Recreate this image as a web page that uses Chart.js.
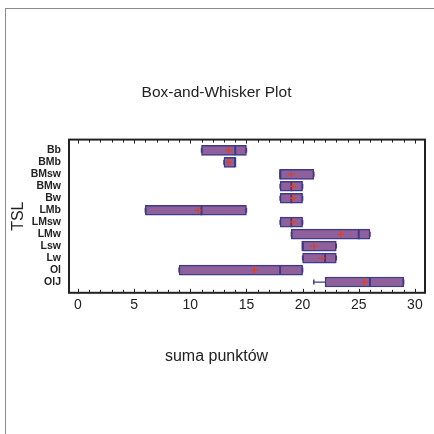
<!DOCTYPE html>
<html>
<head>
  <meta charset="UTF-8">
  <title>Box-and-Whisker Plot</title>
  <script src="https://cdn.jsdelivr.net/npm/chart.js@4.4.1/dist/chart.umd.min.js"></script>
  <style>
    html, body {
      margin: 0;
      padding: 0;
      background: #fff;
    }
    .wrap {
      position: relative;
      width: 434px;
      height: 434px;
      overflow: hidden;
    }
    .frame {
      position: absolute;
      left: 5px;
      top: 8px;
      width: 440px;
      height: 440px;
      border-left: 1.5px solid #8a8a8a;
      border-top: 1.5px solid #8a8a8a;
    }
    canvas {
      position: absolute;
      left: 0;
      top: 0;
    }
  </style>
</head>
<body>
<div class="wrap">
  <div class="frame"></div>
  <canvas id="chart" width="434" height="434"></canvas>
</div>

<script>
// categories, top to bottom
const groups = ["Bb", "BMb", "BMsw", "BMw", "Bw", "LMb", "LMsw", "LMw", "Lsw", "Lw", "Ol", "OlJ"];
const minVals = [11, 13, 18, 18, 18, 6, 18, 19, 20, 20, 9, 21];
const q1Vals = [11, 13, 18, 18, 18, 6, 18, 19, 20, 20, 9, 22];
const medianVals = [14, 14, 18, 19, 19, 11, 19, 25, 20, 22, 18, 26];
const q3Vals = [15, 14, 21, 20, 20, 15, 20, 26, 23, 23, 20, 29];
const maxVals = [15, 14, 21, 20, 20, 15, 20, 26, 23, 23, 20, 29];
const meanVals = [13.4, 13.4, 19.0, 19.1, 19.1, 10.7, 19.1, 23.4, 21.0, 21.7, 15.7, 25.5];
const xTicks = [0, 5, 10, 15, 20, 25, 30];

const boxFill = "#8f609a";
const boxLine = "#3d3a8a";
const meanColor = "#d9432a";

const boxes = groups.map((g, i) => ({ y: i, x: [q1Vals[i], q3Vals[i]] }));
const medians = groups.map((g, i) => ({ y: i, x: medianVals[i] }));
const means = groups.map((g, i) => ({ y: i, x: meanVals[i] }));
const caps = [];
groups.forEach((g, i) => {
  caps.push({ y: i, x: minVals[i] });
  caps.push({ y: i, x: maxVals[i] });
});

// whisker lines, only drawn where they stick out of the box
const whiskers = [];
groups.forEach((g, i) => {
  if (minVals[i] < q1Vals[i]) whiskers.push([{ y: i, x: minVals[i] }, { y: i, x: q1Vals[i] }]);
  if (maxVals[i] > q3Vals[i]) whiskers.push([{ y: i, x: q3Vals[i] }, { y: i, x: maxVals[i] }]);
});

const whiskerSets = whiskers.map(w => ({
  type: "scatter",
  data: w,
  showLine: true,
  borderColor: boxLine,
  borderWidth: 1.2,
  pointRadius: 0,
  order: 3
}));

// frame around the plot + inward ticks on top and bottom
const framePlugin = {
  id: "frame",
  afterDatasetsDraw(chart) {
    const { ctx, chartArea: a, scales } = chart;
    const xs = scales.x;
    ctx.save();
    ctx.strokeStyle = "#222";
    ctx.lineWidth = 1;
    for (let v = 0; v <= 30; v++) {
      const px = Math.round(xs.getPixelForValue(v)) + 0.5;
      const len = v % 5 === 0 ? 4 : 3;
      ctx.beginPath();
      ctx.moveTo(px, a.bottom);
      ctx.lineTo(px, a.bottom - len);
      ctx.moveTo(px, a.top);
      ctx.lineTo(px, a.top + len);
      ctx.stroke();
    }
    ctx.lineWidth = 2;
    ctx.strokeRect(a.left, a.top, a.right - a.left, a.bottom - a.top);
    ctx.restore();
  }
};

new Chart(document.getElementById("chart"), {
  type: "bar",
  data: {
    datasets: [
      {
        type: "bar",
        data: boxes,
        backgroundColor: boxFill,
        borderColor: boxLine,
        borderWidth: 1.5,
        borderSkipped: false,
        barThickness: 10,
        order: 4
      },
      ...whiskerSets,
      {
        type: "scatter",
        data: caps,
        pointStyle: "line",
        rotation: 90,
        pointRadius: 2.5,
        borderColor: boxLine,
        borderWidth: 1.5,
        order: 2
      },
      {
        type: "scatter",
        data: medians,
        pointStyle: "line",
        rotation: 90,
        pointRadius: 5,
        borderColor: boxLine,
        borderWidth: 2,
        order: 1
      },
      {
        type: "scatter",
        data: means,
        pointStyle: "cross",
        pointRadius: 3.5,
        borderColor: meanColor,
        borderWidth: 1.3,
        order: 0
      }
    ]
  },
  options: {
    indexAxis: "y",
    responsive: false,
    animation: false,
    events: [],
    layout: { padding: { left: 8, right: 9, top: 0, bottom: 0 } },
    plugins: {
      legend: { display: false },
      tooltip: { enabled: false },
      title: {
        display: true,
        text: "Box-and-Whisker Plot",
        color: "#222",
        font: { family: "Arial, 'Liberation Sans'", size: 15.5, weight: "normal" },
        padding: { top: 83, bottom: 38 }
      },
      subtitle: {
        display: true,
        position: "bottom",
        text: "suma punktów",
        color: "#222",
        font: { family: "Arial, 'Liberation Sans'", size: 16, weight: "normal" },
        padding: { top: 0, bottom: 68 }
      }
    },
    scales: {
      x: {
        type: "linear",
        position: "bottom",
        min: -0.8,
        max: 30.9,
        offset: false,
        grid: { display: false, drawTicks: false },
        border: { display: false },
        afterBuildTicks: s => { s.ticks = xTicks.map(v => ({ value: v })); },
        afterFit: s => { s.height = 54; },
        ticks: {
          padding: 4,
          color: "#222",
          font: { family: "Arial, 'Liberation Sans'", size: 14 }
        }
      },
      y: {
        type: "linear",
        position: "left",
        reverse: true,
        min: -0.9,
        max: 11.9,
        offset: false,
        grid: { display: false, drawTicks: false },
        border: { display: false },
        afterBuildTicks: s => { s.ticks = groups.map((g, i) => ({ value: i })); },
        afterFit: s => { s.width = 61; },
        ticks: {
          padding: 8,
          color: "#222",
          autoSkip: false,
          font: { family: "Arial, 'Liberation Sans'", size: 10.5, weight: "bold" },
          callback: v => groups[v]
        },
        title: {
          display: true,
          text: "TSL",
          color: "#222",
          font: { family: "Arial, 'Liberation Sans'", size: 16 },
          padding: { top: 1, bottom: 4 }
        }
      }
    }
  },
  plugins: [framePlugin]
});
</script>
</body>
</html>
